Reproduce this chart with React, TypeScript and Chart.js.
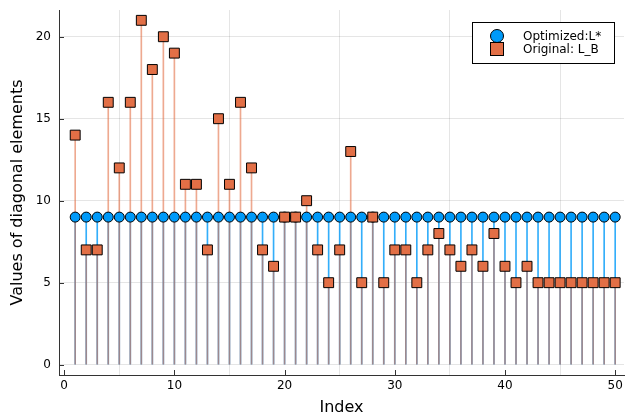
import { useEffect, useRef } from 'react';
import { Chart, registerables } from 'chart.js';

Chart.register(...registerables);

const indexValues = [1, 2, 3, 4, 5, 6, 7, 8, 9, 10, 11, 12, 13, 14, 15, 16, 17, 18, 19, 20, 21, 22, 23, 24, 25, 26, 27, 28, 29, 30, 31, 32, 33, 34, 35, 36, 37, 38, 39, 40, 41, 42, 43, 44, 45, 46, 47, 48, 49, 50];
const optimizedValues = [9, 9, 9, 9, 9, 9, 9, 9, 9, 9, 9, 9, 9, 9, 9, 9, 9, 9, 9, 9, 9, 9, 9, 9, 9, 9, 9, 9, 9, 9, 9, 9, 9, 9, 9, 9, 9, 9, 9, 9, 9, 9, 9, 9, 9, 9, 9, 9, 9, 9];
const originalValues = [14, 7, 7, 16, 12, 16, 21, 18, 20, 19, 11, 11, 7, 15, 11, 16, 12, 7, 6, 9, 9, 10, 7, 5, 7, 13, 5, 9, 5, 7, 7, 5, 7, 8, 7, 6, 7, 6, 8, 6, 5, 6, 5, 5, 5, 5, 5, 5, 5, 5];
const xTickValues = [0, 10, 20, 30, 40, 50];
const yTickValues = [0, 5, 10, 15, 20];
const seriesNames = ['Optimized:L*', 'Original: L_B'];

const BLUE = '#009af9';
const ORANGE = '#e26f46';
const FONT = "'DejaVu Sans', sans-serif";

const noPadding = () => ({ left: 0, top: 0, right: 0, bottom: 0 });

const innerTicks = {
  id: 'innerTicks',
  afterDatasetsDraw(chart: any) {
    const { ctx, chartArea, scales } = chart;
    ctx.save();
    ctx.strokeStyle = '#333';
    ctx.lineWidth = 1;
    ctx.beginPath();
    for (const v of xTickValues) {
      const px = Math.round(scales.x.getPixelForValue(v)) + 0.5;
      ctx.moveTo(px, chartArea.bottom);
      ctx.lineTo(px, chartArea.bottom - 5);
    }
    for (const v of yTickValues) {
      const py = Math.round(scales.y.getPixelForValue(v)) + 0.5;
      ctx.moveTo(chartArea.left, py);
      ctx.lineTo(chartArea.left + 5, py);
    }
    ctx.stroke();
    ctx.restore();
  },
};

const boxLegend = {
  id: 'boxLegend',
  afterDraw(chart: any) {
    const { ctx, chartArea } = chart;
    const right = chartArea.right - 10;
    const top = chartArea.top + 12;
    const w = 142;
    const h = 41;
    const left = right - w;
    ctx.save();
    ctx.fillStyle = '#fff';
    ctx.fillRect(left, top, w, h);
    ctx.strokeStyle = '#000';
    ctx.lineWidth = 1;
    ctx.strokeRect(Math.round(left) + 0.5, Math.round(top) + 0.5, w, h);
    const mx = left + 25;
    const y1 = top + 14;
    const y2 = top + 27;
    ctx.fillStyle = BLUE;
    ctx.beginPath();
    ctx.arc(mx, y1, 6.5, 0, Math.PI * 2);
    ctx.fill();
    ctx.stroke();
    ctx.fillStyle = ORANGE;
    ctx.fillRect(mx - 6.5, y2 - 6.5, 13, 13);
    ctx.strokeRect(mx - 6.5, y2 - 6.5, 13, 13);
    ctx.fillStyle = '#000';
    ctx.font = `12px ${FONT}`;
    ctx.textBaseline = 'middle';
    ctx.textAlign = 'left';
    ctx.fillText(seriesNames[0], left + 51, y1 + 1);
    ctx.fillText(seriesNames[1], left + 51, y2 + 1);
    ctx.restore();
  },
};

export default function App() {
  const canvasRef = useRef<HTMLCanvasElement>(null);

  useEffect(() => {
    const canvas = canvasRef.current;
    if (!canvas) return;
    const chart = new Chart(canvas, {
      type: 'bar',
      data: {
        datasets: [
          {
            type: 'bar',
            label: 'optimized stems',
            data: indexValues.map((x, i) => ({ x, y: [0, optimizedValues[i]] })) as any,
            backgroundColor: 'rgba(0,154,249,0.8)',
            barThickness: 1,
            grouped: false,
            order: 4,
          } as any,
          {
            type: 'bar',
            label: 'original stems',
            data: indexValues.map((x, i) => ({ x, y: [0, originalValues[i]] })) as any,
            backgroundColor: 'rgba(226,111,70,0.6)',
            barThickness: 1,
            grouped: false,
            order: 3,
          } as any,
          {
            type: 'scatter',
            label: seriesNames[0],
            data: indexValues.map((x, i) => ({ x, y: optimizedValues[i] })),
            pointStyle: 'circle',
            pointRadius: 5,
            backgroundColor: BLUE,
            borderColor: '#000',
            borderWidth: 1,
            order: 2,
          } as any,
          {
            type: 'scatter',
            label: seriesNames[1],
            data: indexValues.map((x, i) => ({ x, y: originalValues[i] })),
            pointStyle: 'rect',
            pointRadius: 7,
            backgroundColor: ORANGE,
            borderColor: '#000',
            borderWidth: 1,
            order: 1,
          } as any,
        ],
      },
      options: {
        animation: false,
        responsive: false,
        layout: { autoPadding: false, padding: { top: 10, right: 1, left: 0, bottom: 0 } },
        plugins: {
          legend: { display: false },
          tooltip: { enabled: false },
        },
        scales: {
          x: {
            type: 'linear',
            min: -0.47,
            max: 50.8,
            offset: false,
            afterBuildTicks: (scale: any) => {
              scale.ticks = xTickValues.map((v) => ({ value: v }));
            },
            afterFit: (scale: any) => {
              scale.height = 43;
              scale.getPadding = noPadding;
            },
            grid: { color: 'rgba(0,0,0,0.1)', drawTicks: false },
            border: { color: '#333', width: 1 },
            ticks: {
              padding: 4,
              color: '#000',
              font: { family: FONT, size: 12 },
              maxRotation: 0,
            },
            title: {
              display: true,
              text: 'Index',
              color: '#000',
              font: { family: FONT, size: 16 },
              padding: { top: 0, bottom: 1 },
            },
          },
          y: {
            type: 'linear',
            min: -0.63,
            max: 21.63,
            afterBuildTicks: (scale: any) => {
              scale.ticks = yTickValues.map((v) => ({ value: v }));
            },
            afterFit: (scale: any) => {
              scale.width = 59;
              scale.getPadding = noPadding;
            },
            grid: { color: 'rgba(0,0,0,0.1)', drawTicks: false },
            border: { color: '#333', width: 1 },
            ticks: {
              padding: 8,
              color: '#000',
              font: { family: FONT, size: 12 },
            },
            title: {
              display: true,
              text: 'Values of diagonal elements',
              color: '#000',
              font: { family: FONT, size: 16 },
              padding: { top: 8, bottom: 0 },
            },
          },
        },
      } as any,
      plugins: [innerTicks, boxLegend],
    });
    return () => chart.destroy();
  }, []);

  return (
    <div style={{ position: 'absolute', left: 0, top: 0, width: 625, height: 418, background: '#fff' }}>
      <canvas ref={canvasRef} width={625} height={418} />
    </div>
  );
}
